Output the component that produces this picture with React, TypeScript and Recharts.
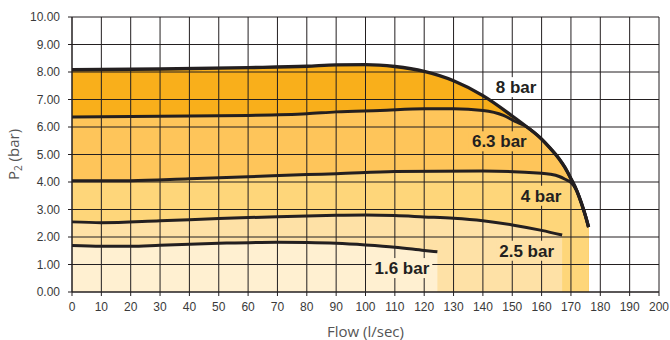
import React from "react";
import {
  ComposedChart,
  Area,
  Line,
  XAxis,
  YAxis,
  ReferenceLine,
  ReferenceDot,
} from "recharts";

// flow (l/sec) and outlet pressure P2 (bar)
const FLOW_8 = [0, 30, 60, 80, 90, 100, 110, 120, 130, 140, 150, 155, 160, 163, 166, 168, 170, 172, 173.5, 175, 176];
const P2_8 = [8.08, 8.11, 8.16, 8.21, 8.26, 8.27, 8.2, 8.02, 7.68, 7.14, 6.4, 6.0, 5.56, 5.22, 4.84, 4.52, 4.12, 3.68, 3.25, 2.75, 2.36];

const FLOW_63 = [0, 30, 60, 80, 90, 105, 120, 130, 140, 147, 151, 155, 160, 163, 166, 168, 170, 172, 173.5, 175, 176];
const P2_63 = [6.36, 6.39, 6.42, 6.48, 6.55, 6.6, 6.66, 6.66, 6.6, 6.42, 6.2, 6.0, 5.56, 5.22, 4.84, 4.52, 4.12, 3.68, 3.25, 2.75, 2.36];

const FLOW_4 = [0, 20, 40, 60, 80, 90, 110, 140, 160, 163, 166, 168, 170, 172, 173.5, 175, 176];
const P2_4 = [4.05, 4.05, 4.12, 4.19, 4.27, 4.3, 4.38, 4.4, 4.32, 4.28, 4.2, 4.1, 3.98, 3.68, 3.25, 2.75, 2.36];

const FLOW_25 = [0, 10, 30, 50, 70, 90, 100, 110, 120, 130, 140, 150, 160, 167];
const P2_25 = [2.55, 2.52, 2.59, 2.67, 2.74, 2.79, 2.8, 2.78, 2.73, 2.68, 2.59, 2.44, 2.24, 2.07];

const FLOW_16 = [0, 10, 20, 30, 50, 70, 80, 90, 100, 110, 120, 124.5];
const P2_16 = [1.69, 1.66, 1.66, 1.7, 1.77, 1.81, 1.8, 1.77, 1.71, 1.63, 1.51, 1.46];

const X_TICKS = [0, 10, 20, 30, 40, 50, 60, 70, 80, 90, 100, 110, 120, 130, 140, 150, 160, 170, 180, 190, 200];
const Y_TICKS = [0, 1, 2, 3, 4, 5, 6, 7, 8, 9, 10];

const CURVE_LABELS = ["8 bar", "6.3 bar", "4 bar", "2.5 bar", "1.6 bar"];
const LABEL_FLOW = [151.3, 145.6, 159.8, 154.9, 112.4];
const LABEL_P2 = [7.45, 5.48, 3.5, 1.5, 0.87];

const SERIES = [
  { key: "p8", flow: FLOW_8, p2: P2_8, fill: "#F9AF1B", width: 3.4 },
  { key: "p63", flow: FLOW_63, p2: P2_63, fill: "#FEC55A", width: 3 },
  { key: "p4", flow: FLOW_4, p2: P2_4, fill: "#FED67A", width: 3 },
  { key: "p25", flow: FLOW_25, p2: P2_25, fill: "#FEE1A6", width: 3 },
  { key: "p16", flow: FLOW_16, p2: P2_16, fill: "#FFF0D1", width: 3 },
];
const LABEL_BG = ["#ffffff", "#FEC55A", "#FED67A", "#FEE1A6", "#FFF0D1"];

// one row per flow value seen on any curve
const allFlows = Array.from(new Set(SERIES.flatMap((s) => s.flow))).sort((a, b) => a - b);
const rows = allFlows.map((x) => {
  const row: Record<string, number> = { x };
  SERIES.forEach((s) => {
    const i = s.flow.indexOf(x);
    if (i >= 0) row[s.key] = s.p2[i];
  });
  return row;
});

const INK = "#231F20";
const TICK = { fontFamily: '"Liberation Sans", Arial, sans-serif', fontSize: 12, fill: "#3a3a3a" };
const TITLE_FONT = '"Open Sans", sans-serif';

const CHAR_W: Record<string, number> = { ".": 0.278, " ": 0.278, b: 0.611, a: 0.556, r: 0.389 };
const textWidth = (t: string, size: number) =>
  t.split("").reduce((w, c) => w + (CHAR_W[c] ?? 0.556), 0) * size;

function CurveLabel(props: any) {
  const { cx, cy, text, bg } = props;
  const w = textWidth(text, 17) + 6;
  return (
    <g>
      <rect x={cx - w / 2} y={cy - 10} width={w} height={20} fill={bg} />
      <text
        x={cx}
        y={cy + 6}
        textAnchor="middle"
        fontFamily='"Liberation Sans", Arial, sans-serif'
        fontWeight="bold"
        fontSize={17}
        fill={INK}
      >
        {text}
      </text>
    </g>
  );
}

export default function App() {
  return (
    <div style={{ position: "absolute", left: 0, top: 0, background: "#fff" }}>
      <ComposedChart
        width={670}
        height={340}
        data={rows}
        margin={{ top: 17, right: 11, bottom: 18, left: 0 }}
      >
        <XAxis
          type="number"
          dataKey="x"
          domain={[0, 200]}
          ticks={X_TICKS}
          interval={0}
          height={30}
          tickSize={4}
          tickMargin={6}
          tick={TICK}
          axisLine={{ stroke: INK, strokeWidth: 1.5 }}
          tickLine={{ stroke: INK }}
          label={{
            value: "Flow (l/sec)",
            position: "bottom",
            offset: 4,
            style: { fontFamily: TITLE_FONT, fontSize: 15, fill: "#555" },
          }}
        />
        <YAxis
          type="number"
          domain={[0, 10]}
          ticks={Y_TICKS}
          interval={0}
          width={72}
          tickSize={4}
          tickMargin={8}
          tick={TICK}
          tickFormatter={(v: number) => v.toFixed(2)}
          axisLine={{ stroke: INK, strokeWidth: 1.5 }}
          tickLine={{ stroke: INK }}
          label={{
            content: (p: any) => {
              const vb = p.viewBox || { x: 0, y: 17, width: 72, height: 275 };
              const cx = vb.x + 19;
              const cy = vb.y + vb.height / 2;
              return (
                <text
                  transform={`translate(${cx},${cy}) rotate(-90)`}
                  textAnchor="middle"
                  fontFamily={TITLE_FONT}
                  fontSize={15}
                  fill="#555"
                >
                  P<tspan fontSize={10} dy={3}>2</tspan>
                  <tspan dy={-3}> (bar)</tspan>
                </text>
              );
            },
          }}
        />

        {SERIES.map((s) => (
          <Area
            key={"a" + s.key}
            type="monotone"
            dataKey={s.key}
            fill={s.fill}
            fillOpacity={1}
            stroke="none"
            connectNulls
            isAnimationActive={false}
          />
        ))}

        {X_TICKS.slice(1).map((t) => (
          <ReferenceLine key={"gx" + t} x={t} stroke={INK} strokeWidth={1} />
        ))}
        {Y_TICKS.slice(1).map((t) => (
          <ReferenceLine key={"gy" + t} y={t} stroke={INK} strokeWidth={1} />
        ))}

        {SERIES.map((s) => (
          <Line
            key={"l" + s.key}
            type="monotone"
            dataKey={s.key}
            stroke={INK}
            strokeWidth={s.width}
            dot={false}
            activeDot={false}
            connectNulls
            isAnimationActive={false}
          />
        ))}

        {CURVE_LABELS.map((t, i) => (
          <ReferenceDot
            key={"lb" + t}
            x={LABEL_FLOW[i]}
            y={LABEL_P2[i]}
            r={0}
            shape={(p: any) => <CurveLabel {...p} text={t} bg={LABEL_BG[i]} />}
          />
        ))}
      </ComposedChart>
    </div>
  );
}
